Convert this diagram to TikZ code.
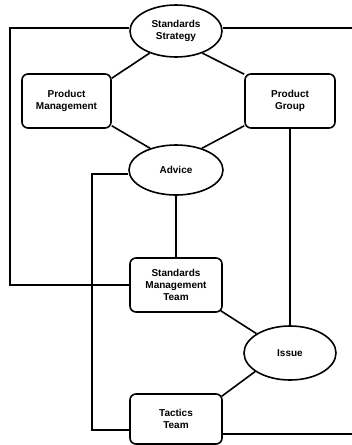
\documentclass[tikz,border=0pt]{standalone}
\usepackage{fontspec}
\setmainfont{Liberation Sans}
\usetikzlibrary{shapes.geometric}
\begin{document}
\begin{tikzpicture}[x=1pt,y=-1pt,
  every node/.style={font=\bfseries\fontsize{10}{12}\selectfont, align=center, inner sep=0pt},
  oval/.style={ellipse, draw, line width=1.6pt, minimum width=92pt, minimum height=52pt},
  rbox/.style={rectangle, draw, line width=1.6pt, rounded corners=6pt},
  conn/.style={line width=1.6pt}]
\useasboundingbox (0,0) rectangle (352,445);
\node[oval] (ss) at (176,31) {Standards\\Strategy};
\node[rbox, minimum width=89pt, minimum height=54pt] (pm) at (66.5,101) {Product\\Management};
\node[rbox, minimum width=90pt, minimum height=54pt] (pg) at (290,101) {Product\\Group};
\node[oval, minimum width=94pt, minimum height=50pt] (adv) at (176,170) {Advice};
\node[rbox, minimum width=92pt, minimum height=54pt] (smt) at (176,285) {Standards\\Management\\Team};
\node[oval, minimum width=92pt, minimum height=54pt] (iss) at (290,353) {Issue};
\node[rbox, minimum width=92pt, minimum height=50pt] (tt) at (176,419) {Tactics\\Team};
\coordinate (c1) at (10,28);
\coordinate (c2) at (10,285);
\coordinate (c3) at (352,28);
\coordinate (c4) at (92,174);
\coordinate (c5) at (92,430);
\coordinate (c6) at (352,434);
\draw[conn] ([yshift=3pt]ss.west) -- (c1) -- (c2) -- (smt.west);
\draw[conn] ([yshift=3pt]ss.east) -- (c3);
\draw[conn] (ss.220) -- ([yshift=-5pt]pm.north east);
\draw[conn] (ss.320) -- ([yshift=-1pt]pg.north west);
\draw[conn] (adv.140) -- ([yshift=3pt]pm.south east);
\draw[conn] (adv.40) -- ([yshift=3pt]pg.south west);
\draw[conn] (pg) -- (iss);
\draw[conn] (adv) -- (smt);
\draw[conn] ([yshift=-4pt]adv.west) -- (c4) -- (c5) -- (tt.west |- c5);
\draw[conn] (tt.east |- c6) -- (c6);
\draw[conn] ([xshift=-2pt,yshift=2pt]smt.south east) -- (iss.150);
\draw[conn] (iss.208) -- ([xshift=-1pt,yshift=-3pt]tt.north east);
\end{tikzpicture}
\end{document}
